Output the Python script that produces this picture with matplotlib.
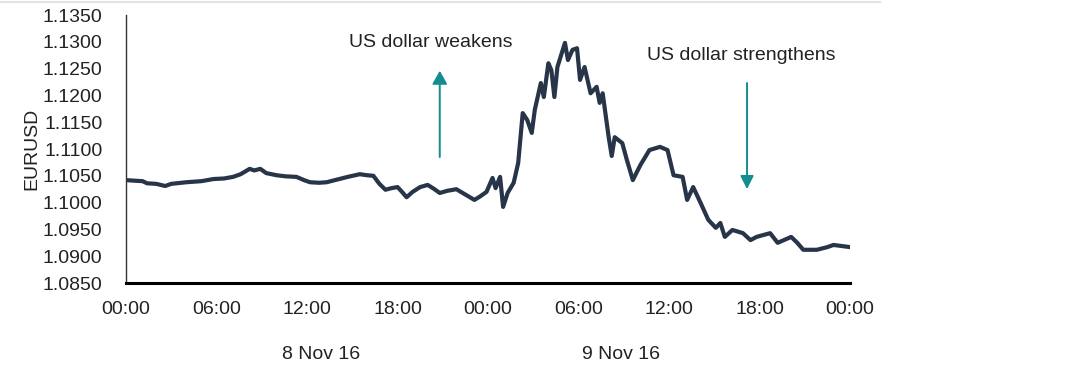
import matplotlib
matplotlib.use("Agg")
import matplotlib.pyplot as plt
from matplotlib.lines import Line2D

plt.rcParams['font.family'] = ['Liberation Sans Narrow', 'Liberation Sans', 'DejaVu Sans']

# EURUSD, hours since 00:00 on 8 Nov 16
hours = [0.0, 0.5, 1.1, 1.4, 2.0, 2.6, 3.0, 4.0, 5.0, 5.8, 6.5, 7.1, 7.6, 8.2,
         8.5, 8.9, 9.3, 10.0, 10.6, 11.3, 11.8, 12.2, 12.8, 13.3, 14.0, 14.7,
         15.5, 16.0, 16.4, 16.8, 17.2, 17.6, 18.0, 18.3, 18.6, 19.0, 19.5,
         20.0, 20.4, 20.8, 21.3, 21.9, 22.5, 23.1, 23.5, 23.9, 24.3, 24.5,
         24.8, 25.0, 25.3, 25.7, 26.0, 26.3, 26.6, 26.9, 27.1, 27.5, 27.7,
         28.0, 28.2, 28.4, 28.6, 29.1, 29.3, 29.6, 29.9, 30.1, 30.4, 30.8,
         31.2, 31.4, 31.6, 32.0, 32.2, 32.4, 32.9, 33.2, 33.6, 34.1, 34.7,
         35.4, 35.9, 36.3, 36.9, 37.2, 37.6, 38.1, 38.6, 39.1, 39.4, 39.7,
         40.2, 40.9, 41.4, 41.8, 42.7, 43.2, 44.1, 44.5, 44.9, 45.8, 46.5,
         46.9, 48.0]
eurusd = [1.1042, 1.1041, 1.1040, 1.1036, 1.1035, 1.1031, 1.1035, 1.1038,
          1.1040, 1.1044, 1.1045, 1.1048, 1.1053, 1.1063, 1.1060, 1.1063,
          1.1055, 1.1051, 1.1049, 1.1048, 1.1042, 1.1038, 1.1037, 1.1038,
          1.1043, 1.1048, 1.1053, 1.1051, 1.1050, 1.1035, 1.1024, 1.1027,
          1.1029, 1.1020, 1.1010, 1.1020, 1.1029, 1.1033, 1.1026, 1.1018,
          1.1022, 1.1025, 1.1015, 1.1005, 1.1012, 1.1020, 1.1046, 1.1027,
          1.1048, 1.0992, 1.1018, 1.1037, 1.1074, 1.1167, 1.1154, 1.1130,
          1.1173, 1.1223, 1.1197, 1.1260, 1.1247, 1.1197, 1.1253, 1.1298,
          1.1266, 1.1285, 1.1288, 1.1229, 1.1253, 1.1204, 1.1216, 1.1186,
          1.1204, 1.1122, 1.1087, 1.1122, 1.1111, 1.1080, 1.1042, 1.1070,
          1.1098, 1.1104, 1.1098, 1.1051, 1.1048, 1.1005, 1.1029, 1.0999,
          1.0968, 1.0953, 1.0962, 1.0936, 1.0949, 1.0943, 1.0930, 1.0936,
          1.0943, 1.0925, 1.0936, 1.0925, 1.0912, 1.0912, 1.0917, 1.0921,
          1.0917]

x_ticks = [0, 6, 12, 18, 24, 30, 36, 42, 48]
x_labels = ["00:00", "06:00", "12:00", "18:00", "00:00", "06:00", "12:00", "18:00", "00:00"]
y_ticks = [1.085, 1.09, 1.095, 1.10, 1.105, 1.11, 1.115, 1.12, 1.125, 1.13, 1.135]
day_labels = ["8 Nov 16", "9 Nov 16"]
day_pos = [12.9, 32.8]

line_color = "#283447"
arrow_color = "#138d90"
text_color = "#222222"
fs = 14

fig = plt.figure(figsize=(10.88, 3.75), dpi=100)
ax = fig.add_axes([0.1158, 0.2453, 0.6655, 0.7147])

ax.plot(hours, eurusd, color=line_color, lw=3.0, solid_joinstyle="round")

ax.set_xlim(0, 48)
ax.set_ylim(1.085, 1.135)
ax.set_xticks(x_ticks)
ax.set_xticklabels(x_labels)
ax.set_yticks(y_ticks)
ax.set_yticklabels(["%.4f" % v for v in y_ticks])
ax.tick_params(axis="both", length=0, labelsize=fs, colors=text_color)
ax.tick_params(axis="y", pad=17)
ax.tick_params(axis="x", pad=13)

ax.spines["top"].set_visible(False)
ax.spines["right"].set_visible(False)
ax.spines["left"].set_color("#333333")
ax.spines["left"].set_linewidth(1.0)
ax.spines["bottom"].set_color("black")
ax.spines["bottom"].set_linewidth(2.2)

ax.set_ylabel("EURUSD", fontsize=fs, color=text_color)
ax.yaxis.set_label_coords(-0.118, 0.5)

for pos, lab in zip(day_pos, day_labels):
    ax.text(pos, -0.265, lab, transform=ax.get_xaxis_transform(),
            ha="center", va="center", fontsize=fs, color=text_color)

# annotations
ax.text(20.2, 1.1298, "US dollar weakens", ha="center", va="center",
        fontsize=fs, color=text_color)
ax.text(40.8, 1.1275, "US dollar strengthens", ha="center", va="center",
        fontsize=fs, color=text_color)
ax.annotate("", xy=(20.8, 1.1246), xytext=(20.8, 1.1085),
            arrowprops=dict(arrowstyle="-|>,head_length=0.8,head_width=0.45",
                            color=arrow_color, lw=1.4, shrinkA=0, shrinkB=0))
ax.annotate("", xy=(41.17, 1.1025), xytext=(41.17, 1.1223),
            arrowprops=dict(arrowstyle="-|>,head_length=0.8,head_width=0.4",
                            color=arrow_color, lw=1.4, shrinkA=0, shrinkB=0))

# thin grey border line along the top
fig.add_artist(Line2D([0, 880 / 1088], [1 - 2 / 375, 1 - 2 / 375],
                      color="#e3e3e3", lw=1.5, transform=fig.transFigure))

fig.savefig("out.png", dpi=100)
